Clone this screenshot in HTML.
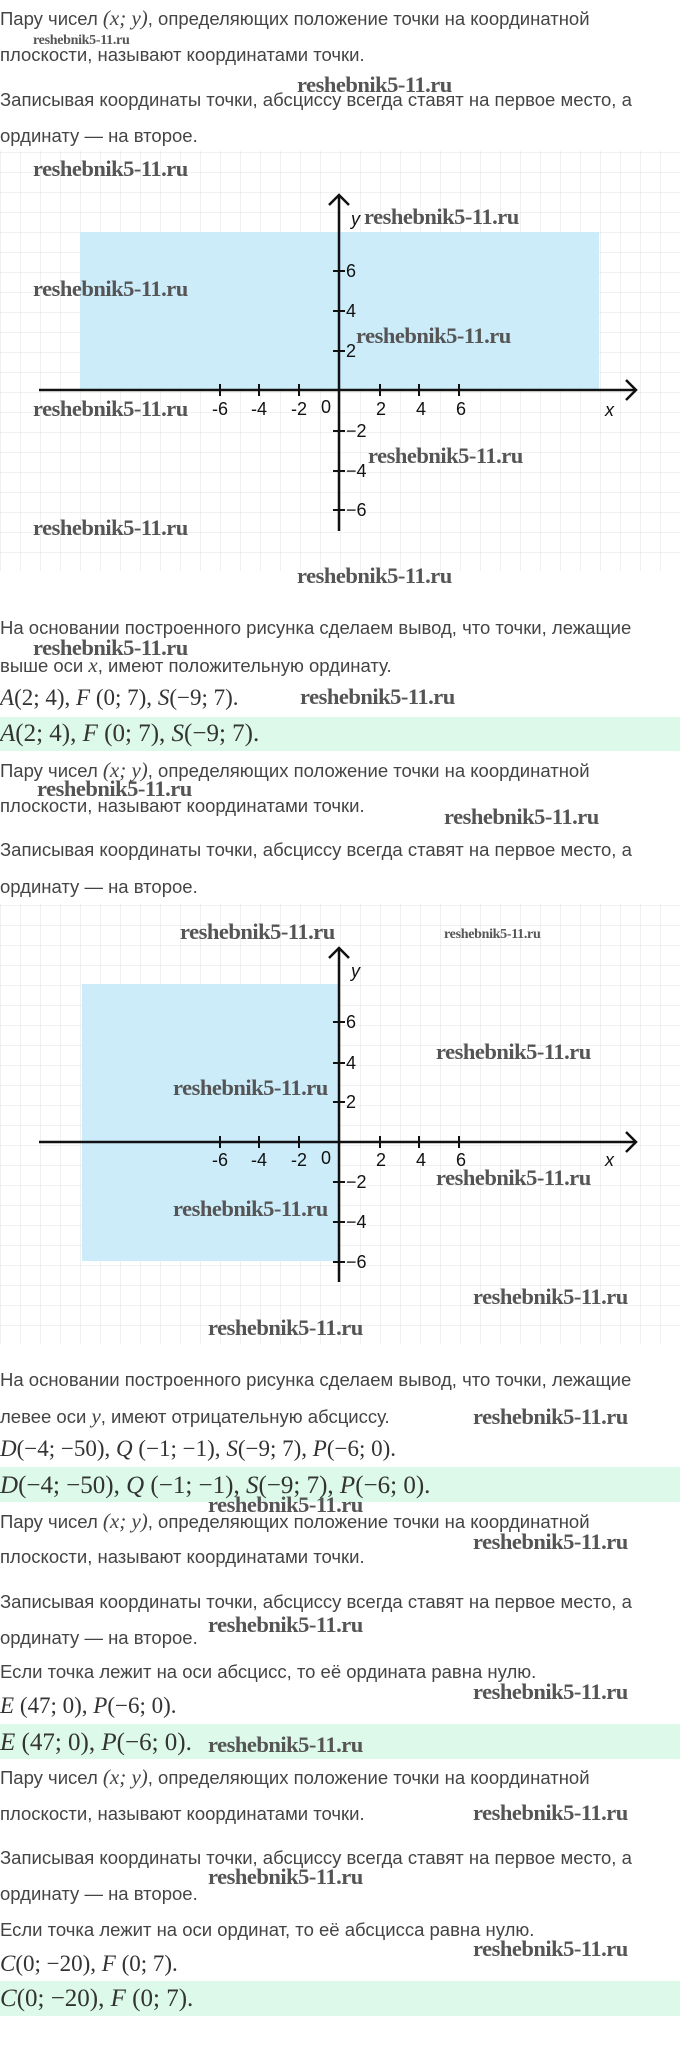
<!DOCTYPE html>
<html><head><meta charset="utf-8"><style>
body{margin:0;width:680px;height:2049px;position:relative;background:#fff;overflow:hidden;font-family:"Liberation Sans",sans-serif}
.t{position:absolute;left:0;font-size:18.5px;color:#444;white-space:nowrap;line-height:20px;margin-top:-10px}
.m{position:absolute;left:0;font-family:"Liberation Serif",serif;font-size:23px;color:#333;white-space:nowrap;line-height:24px;margin-top:-12px}
.b{font-size:25px}
.m i{font-style:italic}
.band{position:absolute;left:0;width:680px;background:#dcf9ea}
.w{position:absolute;font-family:"Liberation Serif",serif;font-weight:bold;font-size:22.5px;color:#555;white-space:nowrap;line-height:20px;margin-top:-11px;letter-spacing:-0.5px}
.ws{font-size:14px;margin-top:-7px;letter-spacing:-0.3px}
svg{position:absolute;left:0}
.i{font-family:"Liberation Serif",serif;font-style:italic}
</style></head><body>

<div class="t" style="top:18px">Пару чисел <span class="i" style="font-size:21px">(x; y)</span>, определяющих положение точки на координатной</div>
<div class="t" style="top:55px">плоскости, называют координатами точки.</div>
<div class="t" style="top:100px">Записывая координаты точки, абсциссу всегда ставят на первое место, а</div>
<div class="t" style="top:136px">ординату — на второе.</div>

<svg style="top:151px" width="680" height="420">
<defs><pattern id="g" width="20" height="20" patternUnits="userSpaceOnUse" x="0" y="1"><path d="M0 0H20M0 0V20" stroke="#e6e6e6" stroke-width="1.2" fill="none"/></pattern></defs>
<rect width="680" height="420" fill="url(#g)"/>
<rect x="80" y="81" width="519" height="158" fill="#c9ebfa" opacity="0.95"/>
<g stroke="#111" stroke-width="2.5" fill="none">
<line x1="39" y1="239" x2="636" y2="239"/><polyline points="626,229 636,239 626,249"/>
<line x1="339" y1="44" x2="339" y2="380"/><polyline points="329,54 339,44 349,54"/>
</g>
<g stroke="#111" stroke-width="2">
<line x1="220" y1="233" x2="220" y2="245"/><line x1="259" y1="233" x2="259" y2="245"/><line x1="299" y1="233" x2="299" y2="245"/>
<line x1="380" y1="233" x2="380" y2="245"/><line x1="419" y1="233" x2="419" y2="245"/><line x1="459" y1="233" x2="459" y2="245"/>
<line x1="333" y1="120" x2="345" y2="120"/><line x1="333" y1="160" x2="345" y2="160"/><line x1="333" y1="200" x2="345" y2="200"/>
<line x1="333" y1="280" x2="345" y2="280"/><line x1="333" y1="320" x2="345" y2="320"/><line x1="333" y1="359" x2="345" y2="359"/>
</g>
<g font-family="Liberation Sans,sans-serif" font-size="18" fill="#111">
<text x="220" y="264" text-anchor="middle">-6</text><text x="259" y="264" text-anchor="middle">-4</text><text x="299" y="264" text-anchor="middle">-2</text>
<text x="326" y="262" text-anchor="middle">0</text>
<text x="381" y="264" text-anchor="middle">2</text><text x="421" y="264" text-anchor="middle">4</text><text x="461" y="264" text-anchor="middle">6</text>
<text x="346" y="126">6</text><text x="346" y="166">4</text><text x="346" y="206">2</text>
<text x="346" y="286">−2</text><text x="346" y="326">−4</text><text x="346" y="365">−6</text>
<text x="605" y="265" font-style="italic">x</text><text x="351" y="74" font-style="italic">y</text>
</g>
</svg>

<div class="t" style="top:628px">На основании построенного рисунка сделаем вывод, что точки, лежащие</div>
<div class="t" style="top:665px">выше оси <span class="i" style="font-size:21px">x</span>, имеют положительную ординату.</div>
<div class="m" style="top:698px"><i>A</i>(2; 4), <i>F</i> (0; 7), <i>S</i>(−9; 7).</div>
<div class="band" style="top:717px;height:34px"></div>
<div class="m b" style="top:734px"><i>A</i>(2; 4), <i>F</i> (0; 7), <i>S</i>(−9; 7).</div>
<div class="t" style="top:770px">Пару чисел <span class="i" style="font-size:21px">(x; y)</span>, определяющих положение точки на координатной</div>
<div class="t" style="top:806px">плоскости, называют координатами точки.</div>
<div class="t" style="top:850px">Записывая координаты точки, абсциссу всегда ставят на первое место, а</div>
<div class="t" style="top:887px">ординату — на второе.</div>

<svg style="top:904px" width="680" height="440">
<rect width="680" height="440" fill="url(#g)"/>
<rect x="82" y="80" width="257" height="277" fill="#c9ebfa" opacity="0.95"/>
<g stroke="#111" stroke-width="2.5" fill="none">
<line x1="39" y1="238" x2="636" y2="238"/><polyline points="626,228 636,238 626,248"/>
<line x1="339" y1="44" x2="339" y2="378"/><polyline points="329,54 339,44 349,54"/>
</g>
<g stroke="#111" stroke-width="2">
<line x1="220" y1="232" x2="220" y2="244"/><line x1="259" y1="232" x2="259" y2="244"/><line x1="299" y1="232" x2="299" y2="244"/>
<line x1="380" y1="232" x2="380" y2="244"/><line x1="419" y1="232" x2="419" y2="244"/><line x1="459" y1="232" x2="459" y2="244"/>
<line x1="333" y1="118" x2="345" y2="118"/><line x1="333" y1="159" x2="345" y2="159"/><line x1="333" y1="198" x2="345" y2="198"/>
<line x1="333" y1="278" x2="345" y2="278"/><line x1="333" y1="318" x2="345" y2="318"/><line x1="333" y1="358" x2="345" y2="358"/>
</g>
<g font-family="Liberation Sans,sans-serif" font-size="18" fill="#111">
<text x="220" y="262" text-anchor="middle">-6</text><text x="259" y="262" text-anchor="middle">-4</text><text x="299" y="262" text-anchor="middle">-2</text>
<text x="326" y="260" text-anchor="middle">0</text>
<text x="381" y="262" text-anchor="middle">2</text><text x="421" y="262" text-anchor="middle">4</text><text x="461" y="262" text-anchor="middle">6</text>
<text x="346" y="124">6</text><text x="346" y="165">4</text><text x="346" y="204">2</text>
<text x="346" y="284">−2</text><text x="346" y="324">−4</text><text x="346" y="364">−6</text>
<text x="605" y="262" font-style="italic">x</text><text x="351" y="73" font-style="italic">y</text>
</g>
</svg>

<div class="t" style="top:1380px">На основании построенного рисунка сделаем вывод, что точки, лежащие</div>
<div class="t" style="top:1416px">левее оси <span class="i" style="font-size:21px">y</span>, имеют отрицательную абсциссу.</div>
<div class="m" style="top:1449px"><i>D</i>(−4; −50), <i>Q</i> (−1; −1), <i>S</i>(−9; 7), <i>P</i>(−6; 0).</div>
<div class="band" style="top:1467px;height:35px"></div>
<div class="m b" style="top:1486px"><i>D</i>(−4; −50), <i>Q</i> (−1; −1), <i>S</i>(−9; 7), <i>P</i>(−6; 0).</div>
<div class="t" style="top:1521px">Пару чисел <span class="i" style="font-size:21px">(x; y)</span>, определяющих положение точки на координатной</div>
<div class="t" style="top:1557px">плоскости, называют координатами точки.</div>
<div class="t" style="top:1602px">Записывая координаты точки, абсциссу всегда ставят на первое место, а</div>
<div class="t" style="top:1638px">ординату — на второе.</div>
<div class="t" style="top:1672px">Если точка лежит на оси абсцисс, то её ордината равна нулю.</div>
<div class="m" style="top:1706px"><i>E</i> (47; 0), <i>P</i>(−6; 0).</div>
<div class="band" style="top:1724px;height:35px"></div>
<div class="m b" style="top:1743px"><i>E</i> (47; 0), <i>P</i>(−6; 0).</div>
<div class="t" style="top:1777px">Пару чисел <span class="i" style="font-size:21px">(x; y)</span>, определяющих положение точки на координатной</div>
<div class="t" style="top:1814px">плоскости, называют координатами точки.</div>
<div class="t" style="top:1858px">Записывая координаты точки, абсциссу всегда ставят на первое место, а</div>
<div class="t" style="top:1894px">ординату — на второе.</div>
<div class="t" style="top:1930px">Если точка лежит на оси ординат, то её абсцисса равна нулю.</div>
<div class="m" style="top:1964px"><i>C</i>(0; −20), <i>F</i> (0; 7).</div>
<div class="band" style="top:1981px;height:35px"></div>
<div class="m b" style="top:1999px"><i>C</i>(0; −20), <i>F</i> (0; 7).</div>

<!-- watermarks -->
<div class="w ws" style="left:33px;top:38px">reshebnik5-11.ru</div>
<div class="w" style="left:297px;top:86px">reshebnik5-11.ru</div>
<div class="w" style="left:33px;top:170px">reshebnik5-11.ru</div>
<div class="w" style="left:364px;top:218px">reshebnik5-11.ru</div>
<div class="w" style="left:33px;top:290px">reshebnik5-11.ru</div>
<div class="w" style="left:356px;top:337px">reshebnik5-11.ru</div>
<div class="w" style="left:33px;top:410px">reshebnik5-11.ru</div>
<div class="w" style="left:368px;top:457px">reshebnik5-11.ru</div>
<div class="w" style="left:33px;top:529px">reshebnik5-11.ru</div>
<div class="w" style="left:297px;top:577px">reshebnik5-11.ru</div>
<div class="w" style="left:33px;top:649px">reshebnik5-11.ru</div>
<div class="w" style="left:300px;top:698px">reshebnik5-11.ru</div>
<div class="w" style="left:37px;top:790px">reshebnik5-11.ru</div>
<div class="w" style="left:444px;top:818px">reshebnik5-11.ru</div>
<div class="w" style="left:180px;top:933px">reshebnik5-11.ru</div>
<div class="w ws" style="left:444px;top:932px">reshebnik5-11.ru</div>
<div class="w" style="left:436px;top:1053px">reshebnik5-11.ru</div>
<div class="w" style="left:173px;top:1089px">reshebnik5-11.ru</div>
<div class="w" style="left:436px;top:1179px">reshebnik5-11.ru</div>
<div class="w" style="left:173px;top:1210px">reshebnik5-11.ru</div>
<div class="w" style="left:473px;top:1298px">reshebnik5-11.ru</div>
<div class="w" style="left:208px;top:1329px">reshebnik5-11.ru</div>
<div class="w" style="left:473px;top:1418px">reshebnik5-11.ru</div>
<div class="w" style="left:208px;top:1506px">reshebnik5-11.ru</div>
<div class="w" style="left:473px;top:1543px">reshebnik5-11.ru</div>
<div class="w" style="left:208px;top:1626px">reshebnik5-11.ru</div>
<div class="w" style="left:473px;top:1693px">reshebnik5-11.ru</div>
<div class="w" style="left:208px;top:1746px">reshebnik5-11.ru</div>
<div class="w" style="left:473px;top:1814px">reshebnik5-11.ru</div>
<div class="w" style="left:208px;top:1878px">reshebnik5-11.ru</div>
<div class="w" style="left:473px;top:1950px">reshebnik5-11.ru</div>
</body></html>
